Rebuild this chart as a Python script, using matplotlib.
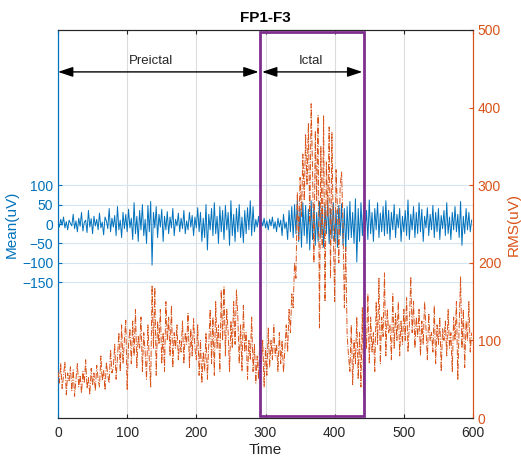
import numpy as np
import matplotlib
matplotlib.use("Agg")
import matplotlib.pyplot as plt
from matplotlib.patches import Rectangle

plt.rcParams['font.family'] = ['Liberation Sans Narrow', 'Liberation Sans', 'DejaVu Sans']

# ---------------- data ----------------
time = np.arange(0, 600, 2)

mean_uv = [
    5, -8, 12, -3, 18, -10, 6, -15, 10, 2,
    -5, 25, -12, 8, -20, 15, -6, 30, -18, 4,
    10, -22, 35, -8, 14, -25, 20, -5, 12, -15,
    28, -10, 5, -28, 18, 8, -12, 40, -20, 15,
    -8, 22, -30, 45, -15, 10, -35, 30, -12, 25,
    -20, 38, -10, 15, -40, 55, -25, 20, -45, 35,
    -15, 50, -30, 12, -50, 48, -20, 58, -106, 30,
    -10, 45, -35, 25, -8, 38, -45, 20, -15, 32,
    -25, 18, -10, 40, -30, 12, -5, 28, -20, 15,
    -12, 35, -25, 8, -15, 30, -8, 22, -30, 18,
    -10, 42, -20, 30, -45, 15, -35, 50, -67, 25,
    -15, 40, -30, 55, -25, 20, -50, 45, -20, 35,
    -40, 48, -15, 30, -55, 60, -30, 25, -45, 40,
    -20, 50, -35, 18, -48, 35, -25, 42, -15, 60,
    -30, 45, -20, 12, -8, 20, -15, 10, -5, 15,
    -10, 8, -15, 12, -5, 18, -12, 6, -20, 15,
    -8, 10, -30, 25, -12, 5, -40, 35, -20, 45,
    -35, 50, -25, 62, -45, 40, -60, 55, -30, 48,
    -50, 38, -67, 60, -40, 52, -55, 30, -45, 58,
    -35, 45, -60, 50, -25, 62, -50, 40, -38, 55,
    -45, 35, -60, 48, -30, 52, -55, 40, -70, 45,
    -40, 58, -35, 30, -50, 65, -98, 40, -45, 55,
    -30, 48, -20, 35, -40, 62, -25, 30, -45, 40,
    -15, 55, -35, 28, -20, 45, -30, 60, -25, 35,
    -40, 30, -15, 50, -35, 25, -10, 40, -45, 20,
    -20, 35, -30, 62, -40, 25, -15, 45, -35, 30,
    -25, 55, -20, 38, -45, 20, -10, 42, -30, 25,
    -15, 48, -35, 30, -20, 40, -40, 22, -12, 35,
    -30, 55, -25, 18, -40, 30, -15, 45, -20, 25,
    -35, 58, -55, 20, -25, 40, -15, 30, -20, 10,
]

rms_uv = [
    60, 45, 70, 38, 55, 72, 30, 58, 48, 66,
    35, 62, 28, 50, 70, 40, 55, 32, 60, 45,
    75, 38, 52, 30, 64, 42, 58, 35, 68, 50,
    40, 80, 48, 62, 36, 72, 55, 45, 88, 58,
    65, 95, 50, 78, 110, 60, 120, 70, 100, 126,
    36, 95, 115, 70, 125, 80, 140, 65, 105, 90,
    130, 60, 110, 85, 50, 120, 75, 40, 171, 90,
    168, 55, 125, 95, 140, 70, 110, 60, 150, 100,
    130, 80, 145, 65, 110, 90, 120, 75, 100, 85,
    125, 70, 110, 95, 135, 65, 115, 80, 128, 90,
    75, 120, 55, 100, 45, 85, 60, 110, 50, 95,
    140, 70, 130, 55, 150, 90, 120, 60, 165, 100,
    169, 80, 140, 110, 60, 125, 90, 150, 95, 165,
    130, 70, 120, 60, 145, 85, 110, 50, 100, 75,
    130, 60, 95, 45, 80, 50, 110, 70, 100, 40,
    90, 55, 116, 65, 100, 75, 120, 80, 95, 60,
    110, 70, 100, 59, 90, 120, 85, 140, 110, 160,
    142, 200, 180, 291, 230, 310, 260, 340, 280, 365,
    300, 380, 250, 405, 320, 200, 370, 280, 390, 116,
    350, 220, 390, 150, 330, 260, 375, 180, 368, 240,
    150, 320, 270, 200, 300, 317, 250, 142, 220, 107,
    80, 60, 120, 43, 100, 70, 130, 50, 110, 40,
    142, 30, 120, 90, 160, 70, 130, 85, 110, 60,
    150, 95, 180, 70, 130, 105, 187, 80, 140, 110,
    120, 75, 160, 90, 135, 100, 150, 80, 125, 95,
    140, 100, 155, 85, 120, 182, 110, 150, 90, 130,
    105, 140, 80, 125, 95, 150, 115, 75, 135, 100,
    110, 85, 145, 70, 120, 95, 130, 60, 115, 100,
    125, 80, 140, 90, 110, 60, 130, 100, 150, 49,
    120, 182, 90, 140, 65, 125, 100, 150, 85, 110,
]

left_ticks = [-150, -100, -50, 0, 50, 100]
right_ticks = [0, 100, 200, 300, 400, 500]
x_ticks = [0, 100, 200, 300, 400, 500, 600]

preictal = (0, 290)
ictal = (292, 442)

# ---------------- style ----------------
BLUE = '#0072BD'
ORANGE = '#D95319'
PURPLE = '#7E2F8E'
DARK = '#262626'

fig = plt.figure(figsize=(5.21, 4.68), dpi=100)
ax = fig.add_axes([0.1113, 0.1068, 0.7966, 0.8291])
ax2 = ax.twinx()

ax.plot(time, mean_uv, color=BLUE, lw=0.7, zorder=3)
ax2.plot(time, rms_uv, color=ORANGE, lw=0.7, ls='-.', zorder=3)

ax.set_xlim(0, 600)
ax.set_ylim(-500, 500)
ax2.set_ylim(0, 500)
ax.set_xticks(x_ticks)
ax.set_yticks(left_ticks)
ax2.set_yticks(right_ticks)

fs = 10
ax.tick_params(axis='x', direction='in', length=3, top=True, color=DARK, labelcolor=DARK,
               labelsize=fs, pad=6,
               grid_color='#dcdcdc', grid_alpha=1.0, grid_linewidth=0.8)
ax.tick_params(axis='y', direction='in', length=3, color=BLUE, labelcolor=BLUE, labelsize=fs,
               grid_color='#d5e5f1', grid_alpha=1.0, grid_linewidth=0.8)
ax2.tick_params(axis='y', direction='in', length=3, color=ORANGE, labelcolor=ORANGE, labelsize=fs)
ax.xaxis.grid(True)
ax.yaxis.grid(True)
ax.set_axisbelow(True)

for a in (ax, ax2):
    a.spines['top'].set_color(DARK)
    a.spines['bottom'].set_color(DARK)
    a.spines['left'].set_color(BLUE)
    a.spines['right'].set_color(ORANGE)
    for s in a.spines.values():
        s.set_linewidth(0.8)

ax.set_ylabel('Mean(uV)', color=BLUE, fontsize=11, labelpad=2)
ax2.set_ylabel('RMS(uV)', color=ORANGE, fontsize=11, labelpad=4)
ax.set_xlabel('Time', color=DARK, fontsize=11, labelpad=2)
ax.set_title('FP1-F3', fontsize=11, fontweight='bold', color='black', pad=6)

# ictal box
ax2.add_patch(Rectangle((ictal[0], 3), ictal[1] - ictal[0], 494, fill=False,
                        edgecolor=PURPLE, lw=2.0, zorder=5, clip_on=False))

# arrows
arrow_y = 446
ap = dict(arrowstyle='<|-|>,head_length=0.9,head_width=0.3', color='black', lw=1.0,
          shrinkA=0, shrinkB=0)
ax2.annotate('', xy=(preictal[0], arrow_y), xytext=(preictal[1], arrow_y), arrowprops=ap)
ax2.annotate('', xy=(ictal[0] + 3, arrow_y), xytext=(ictal[1] - 2, arrow_y), arrowprops=ap)
ax2.text(sum(preictal) / 2 - 10, arrow_y + 6, 'Preictal', ha='center', va='bottom', fontsize=9.5, color=DARK)
ax2.text(sum(ictal) / 2 - 2, arrow_y + 6, 'Ictal', ha='center', va='bottom', fontsize=9.5, color=DARK)

fig.savefig('out.png', dpi=100)
